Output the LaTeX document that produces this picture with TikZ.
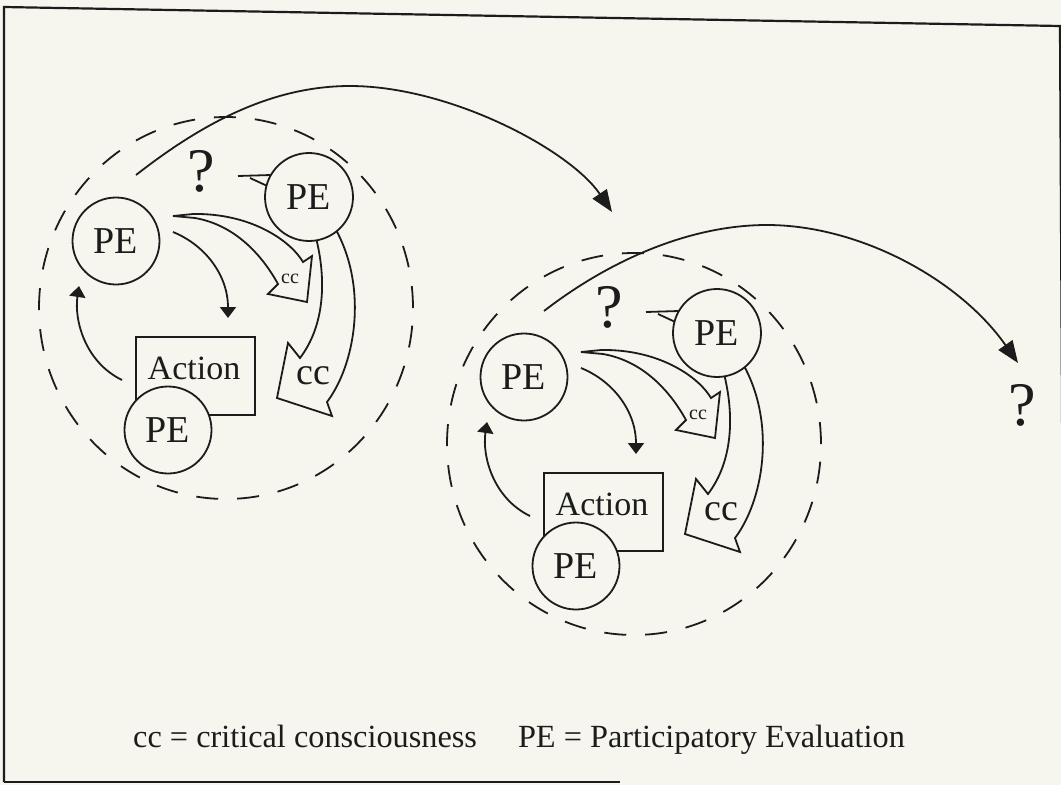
\documentclass[tikz,border=0pt]{standalone}
\usepackage{fontspec}
\setmainfont{Liberation Serif}
\usetikzlibrary{arrows.meta,calc}
\definecolor{bgcol}{RGB}{246,246,239}
\definecolor{ink}{RGB}{28,28,28}
\tikzset{
  inkline/.style={draw=ink, line width=1.8pt},
  pe/.style={circle, draw=ink, line width=1.8pt, fill=bgcol, minimum size=87pt,
    inner sep=0pt, outer sep=0pt, text=ink, font=\fontsize{38}{38}\selectfont},
  actbox/.style={rectangle, draw=ink, line width=1.8pt, fill=bgcol, minimum width=119pt,
    minimum height=78pt, inner sep=0pt, outer sep=0pt},
  acttext/.style={text=ink, inner sep=0pt, font=\fontsize{34}{34}\selectfont},
  qmark/.style={text=ink, inner sep=0pt, font=\fontsize{62}{62}\selectfont},
  cclabel/.style={text=ink, inner sep=0pt},
  dashring/.style={draw=ink, line width=1.8pt, dash pattern=on 22pt off 19pt},
  smalltip/.style={-{Triangle[length=11pt,width=16pt]}},
  bigtip/.style={-{Triangle[length=22pt,width=17pt]}},
  frameline/.style={draw=ink, line width=2.2pt},
}
\newcommand{\drawcluster}{%
  \draw[dashring] (226,308) circle [x radius=187pt, y radius=191pt];
  \node[pe] (pe1) at (116,241) {PE};
  \node[pe, minimum size=88pt] (pe2) at (309,197) {PE};
  \node[actbox] (act) at (195.5,376) {};
  \node[acttext] (acttxt) at (194,368) {Action};
  \node[pe] (pe3) at (168,430) {PE};
  \node[qmark] (q) at (201,171) {?};
  \coordinate (arcstart) at (136,175);
  % wedge from ? to PE
  \coordinate (qw1) at (238,176);
  \coordinate (qw2) at (250,178);
  \draw[inkline] (qw1) -- (pe2.150);
  \draw[inkline] (qw2) -- (pe2.165);
  % arrow PE -> Action
  \coordinate (a1s) at (173,232);
  \coordinate (a1e) at (228,318);
  \draw[inkline, smalltip] (a1s) .. controls (205,245) and (228,275) .. (a1e);
  % arrow Action -> PE
  \coordinate (a2s) at (122,380);
  \coordinate (a2e) at (79,286);
  \draw[inkline, smalltip] (a2s) .. controls (85,362) and (74,320) .. (a2e);
  % small hollow cc arrow
  \coordinate (c1tail) at (173,216);
  \draw[inkline, line join=miter] (c1tail) -- (193,214)
     .. controls (250,213) and (290,240) .. (303,262)
     -- (312,256) -- (307,302) -- (268,294) -- (278,284)
     .. controls (262,255) and (235,225) .. (195,218) -- cycle;
  \node[cclabel, font=\fontsize{20}{20}\selectfont] (cc1) at (290,279) {cc};
  % big hollow cc arrow
  \draw[inkline, line join=miter] (pe2.-80)
     .. controls (326,280) and (325,325) .. (300,358)
     -- (288,343) -- (277,398) -- (332,416) -- (327,402)
     .. controls (355,365) and (368,290) .. (pe2.-51);
  \node[cclabel, font=\fontsize{38}{38}\selectfont] (cc2) at (313,376) {cc};
}
\begin{document}
\begin{tikzpicture}[x=1pt,y=-1pt]
  \fill[bgcol] (0,0) rectangle (1061,785);
  \useasboundingbox (0,0) rectangle (1061,785);
  % frame
  \draw[frameline] (4,782) -- (4,7) -- (1060,26) -- (1064,785);
  \draw[frameline] (4,782) -- (620,782);
  \begin{scope}[name prefix=c1-]
    \drawcluster
  \end{scope}
  \begin{scope}[shift={(408,136)}, name prefix=c2-]
    \drawcluster
  \end{scope}
  \node[qmark] (q3) at (1022,405) {?};
  \coordinate (tip1) at (612,212);
  \coordinate (tip2) at (1018,363);
  \draw[inkline, bigtip] (c1-arcstart) .. controls (200,125) and (270,86) .. (350,86)
     .. controls (450,86) and (570,150) .. (tip1);
  \draw[inkline, bigtip] (c2-arcstart) .. controls (610,260) and (690,225) .. (767,225)
     .. controls (860,225) and (960,280) .. (tip2);
  \node[anchor=base west, text=ink, inner sep=0pt, font=\fontsize{32.3}{32}\selectfont] (legend) at (133,747)
     {cc = critical consciousness\hspace{41pt}PE = Participatory Evaluation};
\end{tikzpicture}
\end{document}
